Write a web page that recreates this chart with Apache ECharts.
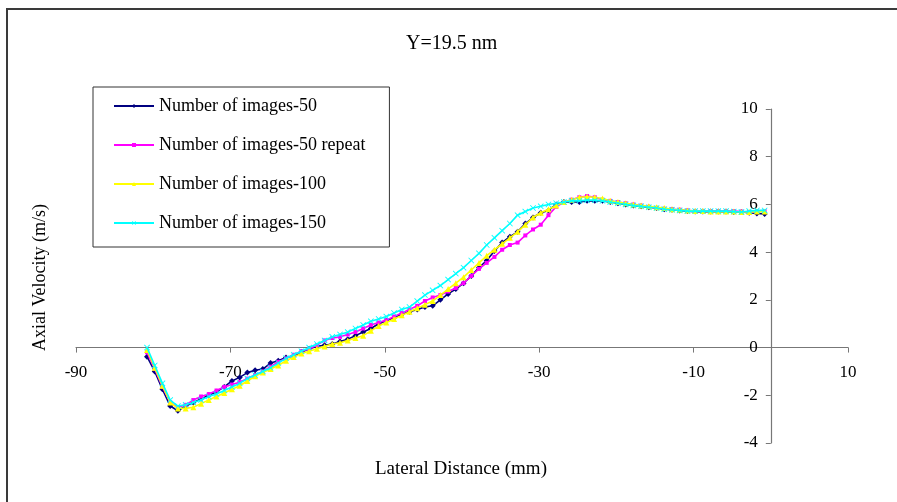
<!DOCTYPE html>
<html>
<head>
<meta charset="utf-8">
<script src="https://cdn.jsdelivr.net/npm/echarts@6/dist/echarts.min.js"></script>
<style>html,body{margin:0;padding:0;background:#fff;}#c{width:897px;height:502px;}</style>
</head>
<body>
<div id="c"></div>
<script>
const titleText = 'Y=19.5 nm';
const xName = 'Lateral Distance (mm)';
const yName = 'Axial Velocity (m/s)';
const seriesNames = ['Number of images-50', 'Number of images-50 repeat', 'Number of images-100', 'Number of images-150'];

const xs = [-80.8, -79.8, -78.8, -77.8, -76.8, -75.8, -74.8, -73.8, -72.8, -71.8,
  -70.8, -69.8, -68.8, -67.8, -66.8, -65.8, -64.8, -63.8, -62.8, -61.8,
  -60.8, -59.8, -58.8, -57.8, -56.8, -55.8, -54.8, -53.8, -52.8, -51.8,
  -50.8, -49.8, -48.8, -47.8, -46.8, -45.8, -44.8, -43.8, -42.8, -41.8,
  -40.8, -39.8, -38.8, -37.8, -36.8, -35.8, -34.8, -33.8, -32.8, -31.8,
  -30.8, -29.8, -28.8, -27.8, -26.8, -25.8, -24.8, -23.8, -22.8, -21.8,
  -20.8, -19.8, -18.8, -17.8, -16.8, -15.8, -14.8, -13.8, -12.8, -11.8,
  -10.8, -9.8, -8.8, -7.8, -6.8, -5.8, -4.8, -3.8, -2.8, -1.8, -0.8];

const img50 = [-0.38, -1.0, -1.75, -2.45, -2.65, -2.45, -2.3, -2.15, -2.0, -1.85,
  -1.65, -1.4, -1.25, -1.05, -0.95, -0.9, -0.65, -0.55, -0.42, -0.35,
  -0.2, -0.05, 0.05, 0.1, 0.15, 0.25, 0.35, 0.5, 0.65, 0.8,
  1.0, 1.12, 1.25, 1.4, 1.5, 1.6, 1.7, 1.75, 2.0, 2.25,
  2.45, 2.7, 3.0, 3.35, 3.65, 4.05, 4.4, 4.65, 4.85, 5.2,
  5.45, 5.65, 5.75, 6.0, 6.1, 6.1, 6.1, 6.15, 6.15, 6.15,
  6.1, 6.05, 6.0, 5.95, 5.92, 5.88, 5.85, 5.8, 5.78, 5.75,
  5.72, 5.7, 5.7, 5.7, 5.7, 5.7, 5.68, 5.68, 5.65, 5.62, 5.6];

const img50r = [-0.2, -0.9, -1.65, -2.3, -2.5, -2.4, -2.2, -2.05, -1.95, -1.8,
  -1.65, -1.55, -1.45, -1.3, -1.15, -1.0, -0.8, -0.6, -0.45, -0.3,
  -0.15, -0.05, 0.1, 0.3, 0.4, 0.45, 0.55, 0.65, 0.8, 0.95,
  1.05, 1.15, 1.3, 1.45, 1.6, 1.75, 1.95, 2.1, 2.2, 2.35,
  2.5, 2.7, 3.0, 3.3, 3.55, 3.8, 4.1, 4.3, 4.4, 4.7,
  4.95, 5.15, 5.55, 5.9, 6.1, 6.2, 6.3, 6.35, 6.3, 6.2,
  6.15, 6.1, 6.05, 6.0, 5.95, 5.9, 5.85, 5.82, 5.8, 5.78,
  5.75, 5.72, 5.72, 5.72, 5.72, 5.72, 5.72, 5.7, 5.68, 5.7, 5.72];

const img100 = [-0.1, -0.85, -1.6, -2.3, -2.55, -2.55, -2.5, -2.35, -2.2, -2.05,
  -1.9, -1.75, -1.6, -1.4, -1.2, -1.05, -0.9, -0.75, -0.55, -0.4,
  -0.25, -0.15, -0.05, 0.05, 0.15, 0.2, 0.3, 0.4, 0.5, 0.7,
  0.9, 1.05, 1.2, 1.35, 1.5, 1.65, 1.8, 1.95, 2.2, 2.45,
  2.7, 2.95, 3.25, 3.55, 3.85, 4.1, 4.35, 4.6, 4.85, 5.15,
  5.45, 5.65, 5.8, 5.95, 6.1, 6.2, 6.3, 6.32, 6.3, 6.25,
  6.15, 6.1, 6.05, 6.0, 5.95, 5.92, 5.88, 5.85, 5.8, 5.78,
  5.75, 5.72, 5.72, 5.7, 5.7, 5.7, 5.7, 5.68, 5.68, 5.7, 5.7];

const img150 = [0.0, -0.75, -1.5, -2.2, -2.45, -2.4, -2.3, -2.2, -2.05, -1.95,
  -1.8, -1.65, -1.5, -1.3, -1.15, -1.0, -0.85, -0.65, -0.45, -0.3,
  -0.15, 0.0, 0.15, 0.3, 0.45, 0.55, 0.65, 0.8, 0.95, 1.1,
  1.2, 1.3, 1.45, 1.6, 1.7, 1.95, 2.2, 2.4, 2.6, 2.85,
  3.1, 3.35, 3.65, 3.95, 4.3, 4.6, 4.9, 5.2, 5.55, 5.7,
  5.85, 5.92, 6.0, 6.05, 6.1, 6.15, 6.15, 6.18, 6.18, 6.15,
  6.1, 6.05, 6.0, 5.95, 5.92, 5.88, 5.85, 5.8, 5.78, 5.75,
  5.72, 5.72, 5.72, 5.72, 5.72, 5.72, 5.7, 5.68, 5.72, 5.75, 5.75];

const xTicks = [-90, -70, -50, -30, -10, 10];
const yTicks = [-4, -2, 0, 2, 4, 6, 8, 10];

const serif = '"Liberation Serif", "DejaVu Serif", serif';
const allY = [img50, img50r, img100, img150];
const colors = ['#000080', '#FF00FF', '#FFFF00', '#00FFFF'];
const xMarkPath = 'path://M0,1L1,0L5,4L9,0L10,1L6,5L10,9L9,10L5,6L1,10L0,9L4,5Z';
const symbols = ['diamond', 'rect', 'triangle', xMarkPath];
const symSizes = [6, 4, 6, 6];

const gridL = 76, gridR = 49, gridT = 109, gridB = 59;
const W = 897, H = 502;
const xMin = -90, xMax = 10, yMin = -4, yMax = 10;
// place axes where the other axis is zero (crossing point), via axis offset
const plotW = W - gridL - gridR, plotH = H - gridT - gridB;
const yAxisOffset = -((0 - xMin) / (xMax - xMin)) * plotW;
const xAxisOffset = -((0 - yMin) / (yMax - yMin)) * plotH;

const chart = echarts.init(document.getElementById('c'), null, {renderer: 'canvas'});
const option = {
  animation: false,
  backgroundColor: '#ffffff',
  title: {
    text: titleText, left: 406, top: 34, padding: 0,
    textStyle: {fontFamily: serif, fontSize: 20, fontWeight: 'normal', color: '#000'}
  },
  legend: {
    orient: 'vertical', left: 93, top: 87,
    padding: [10, 24, 15, 20],
    itemGap: 21, itemWidth: 40, itemHeight: 5,
    borderColor: '#333', borderWidth: 1,
    textStyle: {fontFamily: serif, fontSize: 18, color: '#000'},
    data: seriesNames
  },
  grid: {left: gridL, right: gridR, top: gridT, bottom: gridB, containLabel: false},
  xAxis: {
    type: 'value', min: xMin, max: xMax, interval: 20,
    position: 'bottom', offset: xAxisOffset,
    axisLine: {show: true, onZero: false, lineStyle: {color: '#777', width: 1.2}},
    axisTick: {show: true, length: 5, inside: false, lineStyle: {color: '#777'}},
    axisLabel: {
      margin: 16, color: '#000', fontFamily: serif, fontSize: 17,
      formatter: v => String(v)
    },
    splitLine: {show: false}
  },
  yAxis: {
    type: 'value', min: yMin, max: yMax, interval: 2,
    position: 'left', offset: yAxisOffset,
    axisLine: {show: true, onZero: false, lineStyle: {color: '#777', width: 1.2}},
    axisTick: {show: true, length: 5, inside: false, lineStyle: {color: '#777'}},
    axisLabel: {
      margin: 13, color: '#000', fontFamily: serif, fontSize: 17,
      formatter: v => String(v)
    },
    splitLine: {show: false}
  },
  series: seriesNames.map((name, i) => ({
    name: name,
    type: 'line',
    data: xs.map((x, j) => [x, allY[i][j]]),
    showSymbol: true,
    showAllSymbol: true,
    symbol: symbols[i],
    symbolSize: symSizes[i],
    lineStyle: {color: colors[i], width: 1.6},
    itemStyle: {color: colors[i], borderWidth: 0},
    emphasis: {disabled: true},
    z: 2 + i
  })),
  graphic: [
    {type: 'line', shape: {x1: 6, y1: 9, x2: 897, y2: 9}, style: {stroke: '#3a3a3a', lineWidth: 2}},
    {type: 'line', shape: {x1: 7, y1: 9, x2: 7, y2: 502}, style: {stroke: '#3a3a3a', lineWidth: 2}},
    {type: 'text', left: 375, top: 460, style: {text: xName, font: '19px ' + serif, fill: '#000'}},
    {type: 'text', x: 31, y: 351, rotation: Math.PI / 2,
     style: {text: yName, font: '18px ' + serif, fill: '#000'}}
  ]
};
chart.setOption(option);
</script>
</body>
</html>
